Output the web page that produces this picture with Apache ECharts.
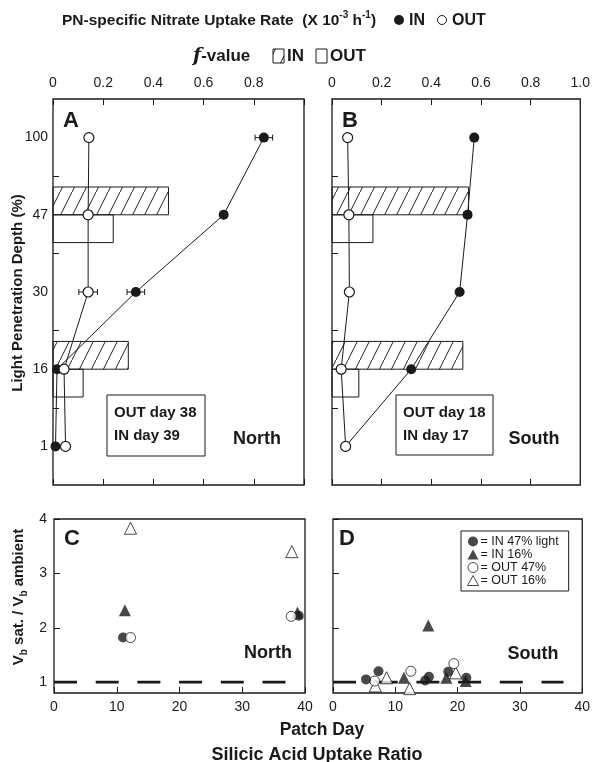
<!DOCTYPE html>
<html>
<head>
<meta charset="utf-8">
<script src="https://cdn.jsdelivr.net/npm/echarts@6/dist/echarts.min.js"></script>
<style>
    html, body {margin: 0; padding: 0; background: #fff;}
    #chart {width: 593px; height: 762px;}
</style>
</head>
<body>
<div id="chart"></div>
<script>
// depth levels, bottom (position 0) to top (position 4)
const depthLabels = ['1', '16', '30', '47', '100'];
// profile order as drawn, top to bottom
const depthOrder = ['100', '47', '30', '16', '1'];

// PN-specific nitrate uptake rate (x 10^-3 h^-1)
const inRateA = [0.84, 0.68, 0.33, 0.016, 0.01];
const inErrA = [0.035, 0, 0.035, 0, 0];
const outRateA = [0.143, 0.14, 0.14, 0.044, 0.05];
const outErrA = [0, 0, 0.037, 0, 0];
const inRateB = [0.573, 0.546, 0.514, 0.319, 0.055];
const inErrB = [0, 0.015, 0, 0, 0];
const outRateB = [0.063, 0.068, 0.07, 0.037, 0.055];
const outErrB = [0, 0, 0, 0, 0];

// f-values
const fDepths = ['47', '16'];
const fInA = [0.46, 0.30];
const fOutA = [0.24, 0.12];
const fInB = [0.55, 0.527];
const fOutB = [0.165, 0.108];

// silicic acid uptake ratio [patch day, ratio]
const in47C = [[11.0, 1.82], [39.0, 2.22]];
const in16C = [[11.3, 2.32], [38.8, 2.28]];
const out47C = [[12.2, 1.82], [37.8, 2.21]];
const out16C = [[12.2, 3.83], [37.9, 3.40]];
const in47D = [[5.3, 1.05], [7.3, 1.2], [14.8, 1.03], [15.4, 1.1], [18.5, 1.19], [21.4, 1.08]];
const in16D = [[11.4, 1.08], [15.3, 2.04], [18.2, 1.08], [21.3, 1.02]];
const out47D = [[6.7, 1.02], [12.5, 1.2], [19.4, 1.34]];
const out16D = [[6.8, 0.93], [8.6, 1.08], [12.3, 0.88], [19.7, 1.17]];
const ambientLine = [[0, 1], [37, 1]];

const ink = '#1a1a1a';
const font = 'Liberation Sans, Arial, sans-serif';

function hatch() {
    const c = document.createElement('canvas');
    c.width = 12;
    c.height = 24;
    const ctx = c.getContext('2d');
    ctx.strokeStyle = '#222';
    ctx.lineWidth = 1;
    ctx.beginPath();
    ctx.moveTo(-1, 26);
    ctx.lineTo(13, -2);
    ctx.stroke();
    return {image: c, repeat: 'repeat'};
}
const hatchFill = hatch();

const pos = d => depthLabels.indexOf(d);

function profile(rates) {
    return rates.map((v, i) => [v, pos(depthOrder[i])]);
}

function errors(rates, errs) {
    const out = [];
    rates.forEach((v, i) => {
        if (errs[i]) out.push([pos(depthOrder[i]), v - errs[i], v + errs[i]]);
    });
    return out;
}

function bars(values, side) {
    return values.map((v, i) => [pos(fDepths[i]), v, side]);
}

function renderError(params, api) {
    const y = api.value(0);
    const a = api.coord([api.value(1), y]);
    const b = api.coord([api.value(2), y]);
    const style = {stroke: ink, lineWidth: 1};
    return {
        type: 'group',
        children: [
            {type: 'line', shape: {x1: a[0], y1: a[1], x2: b[0], y2: b[1]}, style},
            {type: 'line', shape: {x1: a[0], y1: a[1] - 3, x2: a[0], y2: a[1] + 3}, style},
            {type: 'line', shape: {x1: b[0], y1: b[1] - 3, x2: b[0], y2: b[1] + 3}, style}
        ]
    };
}

function renderBar(params, api) {
    const y = api.value(0);
    const side = api.value(2);
    const h = 0.36;
    const top = side > 0 ? y + h : y;
    const bottom = side > 0 ? y : y - h;
    const p1 = api.coord([0, top]);
    const p2 = api.coord([api.value(1), bottom]);
    return {
        type: 'rect',
        shape: {x: p1[0], y: p1[1], width: p2[0] - p1[0], height: p2[1] - p1[1]},
        style: {fill: side > 0 ? hatchFill : 'rgba(0,0,0,0)', stroke: ink, lineWidth: 1}
    };
}

const grids = [
    {left: 53, top: 99, width: 251, height: 386},
    {left: 332, top: 99, width: 251, height: 386},
    {left: 54, top: 519, width: 251, height: 174},
    {left: 333, top: 519, width: 250, height: 174}
].map(g => ({...g, show: true, borderColor: ink, borderWidth: 1.3, backgroundColor: 'transparent'}));

const labelStyle = {color: ink, fontSize: 14, fontFamily: font};

function rateAxis(grid, position, labels, hideLast) {
    return {
        gridIndex: grid,
        type: 'value',
        position: position,
        min: 0, max: 1, interval: 0.2,
        axisLine: {show: false, onZero: false},
        splitLine: {show: false},
        axisTick: {inside: true, length: 6, lineStyle: {color: ink}},
        axisLabel: {
            show: labels, ...labelStyle, margin: 9,
            formatter: v => (hideLast && v === 1) ? '' : (v === 0 ? '0' : v.toFixed(1))
        }
    };
}

function dayAxis(grid) {
    return {
        gridIndex: grid,
        type: 'value',
        min: 0, max: 40, interval: 10,
        axisLine: {show: false, onZero: false},
        splitLine: {show: false},
        axisTick: {inside: true, length: 6, lineStyle: {color: ink}},
        axisLabel: {...labelStyle, margin: 7}
    };
}

function depthAxis(grid, labels) {
    return {
        gridIndex: grid,
        type: 'value',
        min: -0.5, max: 4.5,
        axisLine: {show: false, onZero: false},
        splitLine: {show: false},
        axisTick: {inside: true, length: 6, lineStyle: {color: ink}, customValues: [0.5, 1.5, 2.5, 3.5]},
        axisLabel: {
            show: labels, ...labelStyle, margin: 5,
            customValues: [0, 1, 2, 3, 4],
            formatter: v => depthLabels[Math.round(v)]
        }
    };
}

function ratioAxis(grid, labels) {
    return {
        gridIndex: grid,
        type: 'value',
        min: 0.8, max: 4,
        axisLine: {show: false, onZero: false},
        splitLine: {show: false},
        axisTick: {inside: true, length: 6, lineStyle: {color: ink}, customValues: [1, 2, 3, 4]},
        axisLabel: {show: labels, ...labelStyle, margin: 7, customValues: [1, 2, 3, 4]}
    };
}

function profileSeries(name, data, x, y, filled) {
    return {
        name: name,
        type: 'line',
        xAxisIndex: x, yAxisIndex: y,
        data: data,
        symbol: 'circle',
        symbolSize: 10,
        z: 4,
        lineStyle: {color: ink, width: 1},
        itemStyle: filled ? {color: ink} : {color: '#fff', borderColor: ink, borderWidth: 1.2},
        emphasis: {disabled: true}
    };
}

function errorSeries(data, x, y) {
    return {
        type: 'custom', xAxisIndex: x, yAxisIndex: y, z: 3,
        renderItem: renderError, data: data,
        encode: {x: [1, 2], y: 0}
    };
}

function barSeries(data, x, y) {
    return {
        type: 'custom', xAxisIndex: x, yAxisIndex: y, z: 1,
        renderItem: renderBar, data: data,
        encode: {x: 1, y: 0}
    };
}

const markerStyles = {
    'IN 47% light': {symbol: 'circle', symbolSize: 10, itemStyle: {color: ink}},
    'IN 16%': {symbol: 'triangle', symbolSize: 12, itemStyle: {color: ink}},
    'OUT 47%': {symbol: 'circle', symbolSize: 10, itemStyle: {color: '#fff', borderColor: ink, borderWidth: 1}},
    'OUT 16%': {symbol: 'triangle', symbolSize: 12, itemStyle: {color: '#fff', borderColor: ink, borderWidth: 1}}
};

function ratioSeries(name, data, x, y) {
    return {
        name: name, type: 'scatter', xAxisIndex: x, yAxisIndex: y, data: data, z: 4,
        ...markerStyles[name], emphasis: {disabled: true}
    };
}

function dashed(x, y) {
    return {
        type: 'line', xAxisIndex: x, yAxisIndex: y, data: ambientLine, symbol: 'none', z: 2,
        lineStyle: {color: ink, width: 2.6, type: [23, 18.7]}
    };
}

function txt(x, y, text, size, extra) {
    return {
        type: 'text', x: x, y: y, z: 10,
        style: {text: text, fill: ink, font: 'bold ' + size + 'px ' + font, verticalAlign: 'middle', ...(extra || {})}
    };
}

function dayBox(x, y, w, h, lines) {
    return {
        type: 'group', x: x, y: y, z: 10,
        children: [
            {type: 'rect', shape: {x: 0, y: 0, width: w, height: h}, style: {fill: '#fff', stroke: ink, lineWidth: 1}},
            txt(7, 18, lines[0], 15),
            txt(7, 41, lines[1], 15)
        ]
    };
}

const chart = echarts.init(document.getElementById('chart'), null, {renderer: 'canvas'});

const yTitleA = txt(17.5, 293, 'Light Penetration Depth (%)', 15, {align: 'center'});
yTitleA.rotation = Math.PI / 2;

chart.setOption({
    animation: false,
    backgroundColor: '#fff',
    grid: grids,
    xAxis: [
        rateAxis(0, 'top', true, true),
        rateAxis(0, 'bottom', false, false),
        rateAxis(1, 'top', true, false),
        rateAxis(1, 'bottom', false, false),
        dayAxis(2),
        dayAxis(3)
    ],
    yAxis: [
        depthAxis(0, true),
        depthAxis(1, false),
        ratioAxis(2, true),
        ratioAxis(3, false)
    ],
    legend: {
        orient: 'vertical',
        left: 461, top: 531,
        padding: [4, 10, 4, 6],
        itemGap: 0,
        itemWidth: 11, itemHeight: 10,
        borderColor: ink, borderWidth: 1,
        backgroundColor: '#fff',
        selectedMode: false,
        itemStyle: {borderWidth: 1},
        formatter: n => '= ' + n,
        textStyle: {color: ink, fontSize: 12.5, lineHeight: 13, fontFamily: font, padding: [0, 0, 0, -3]},
        data: ['IN 47% light', 'IN 16%', 'OUT 47%', 'OUT 16%']
    },
    series: [
        barSeries(bars(fInA, 1), 0, 0),
        barSeries(bars(fOutA, -1), 0, 0),
        errorSeries(errors(inRateA, inErrA), 0, 0),
        errorSeries(errors(outRateA, outErrA), 0, 0),
        profileSeries('IN', profile(inRateA), 0, 0, true),
        profileSeries('OUT', profile(outRateA), 0, 0, false),

        barSeries(bars(fInB, 1), 2, 1),
        barSeries(bars(fOutB, -1), 2, 1),
        errorSeries(errors(inRateB, inErrB), 2, 1),
        errorSeries(errors(outRateB, outErrB), 2, 1),
        profileSeries('IN', profile(inRateB), 2, 1, true),
        profileSeries('OUT', profile(outRateB), 2, 1, false),

        dashed(4, 2),
        ratioSeries('IN 47% light', in47C, 4, 2),
        ratioSeries('IN 16%', in16C, 4, 2),
        ratioSeries('OUT 47%', out47C, 4, 2),
        ratioSeries('OUT 16%', out16C, 4, 2),

        dashed(5, 3),
        ratioSeries('OUT 16%', out16D, 5, 3),
        ratioSeries('OUT 47%', out47D, 5, 3),
        ratioSeries('IN 16%', in16D, 5, 3),
        ratioSeries('IN 47% light', in47D, 5, 3)
    ],
    graphic: [
        {
            type: 'text', x: 62, y: 21, z: 10,
            style: {
                text: 'PN-specific Nitrate Uptake Rate  (X 10{sup|-3} h{sup|-1})',
                fill: ink, font: 'bold 15.5px ' + font, verticalAlign: 'middle',
                rich: {sup: {fontSize: 10, fontWeight: 'bold', fontFamily: font, fill: ink, verticalAlign: 'top', lineHeight: 22}}
            }
        },
        {type: 'circle', shape: {cx: 399, cy: 20, r: 5}, style: {fill: ink}, z: 10},
        txt(409, 21, 'IN', 16),
        {type: 'circle', shape: {cx: 442, cy: 20, r: 4.5}, style: {fill: '#fff', stroke: ink, lineWidth: 1}, z: 10},
        txt(452, 21, 'OUT', 16),

        {
            type: 'text', x: 193, y: 56, z: 10,
            style: {
                text: '{i|f}-value',
                fill: ink, font: 'bold 17px ' + font, verticalAlign: 'middle',
                rich: {i: {fontStyle: 'italic', fontWeight: 'bold', fontSize: 19, fontFamily: 'DejaVu Serif, serif', fill: ink}}
            }
        },
        {type: 'rect', shape: {x: 273, y: 49, width: 11, height: 14}, style: {fill: hatchFill, stroke: ink, lineWidth: 1}, z: 10},
        txt(287, 56, 'IN', 17),
        {type: 'rect', shape: {x: 316, y: 49, width: 11, height: 14}, style: {fill: '#fff', stroke: ink, lineWidth: 1}, z: 10},
        txt(330, 56, 'OUT', 17),

        yTitleA,
        {
            type: 'text', x: 19, y: 597, z: 10, rotation: Math.PI / 2,
            style: {
                text: 'V{sub|b} sat. / V{sub|b} ambient',
                fill: ink, font: 'bold 15px ' + font, align: 'center', verticalAlign: 'middle',
                rich: {sub: {fontSize: 10, fontWeight: 'bold', fontFamily: font, fill: ink, verticalAlign: 'bottom', lineHeight: 20}}
            }
        },
        txt(322, 730, 'Patch Day', 17.5, {align: 'center'}),
        txt(317, 755, 'Silicic Acid Uptake Ratio', 18, {align: 'center'}),

        txt(63, 121, 'A', 22),
        txt(342, 121, 'B', 22),
        txt(64, 539, 'C', 22),
        txt(339, 539, 'D', 22),
        txt(257, 439, 'North', 18, {align: 'center'}),
        txt(534, 439, 'South', 18, {align: 'center'}),
        txt(268, 653, 'North', 18, {align: 'center'}),
        txt(533, 654, 'South', 18, {align: 'center'}),

        dayBox(107, 395, 98, 61, ['OUT day 38', 'IN day 39']),
        dayBox(396, 395, 97, 60, ['OUT day 18', 'IN day 17'])
    ]
});
</script>
</body>
</html>
